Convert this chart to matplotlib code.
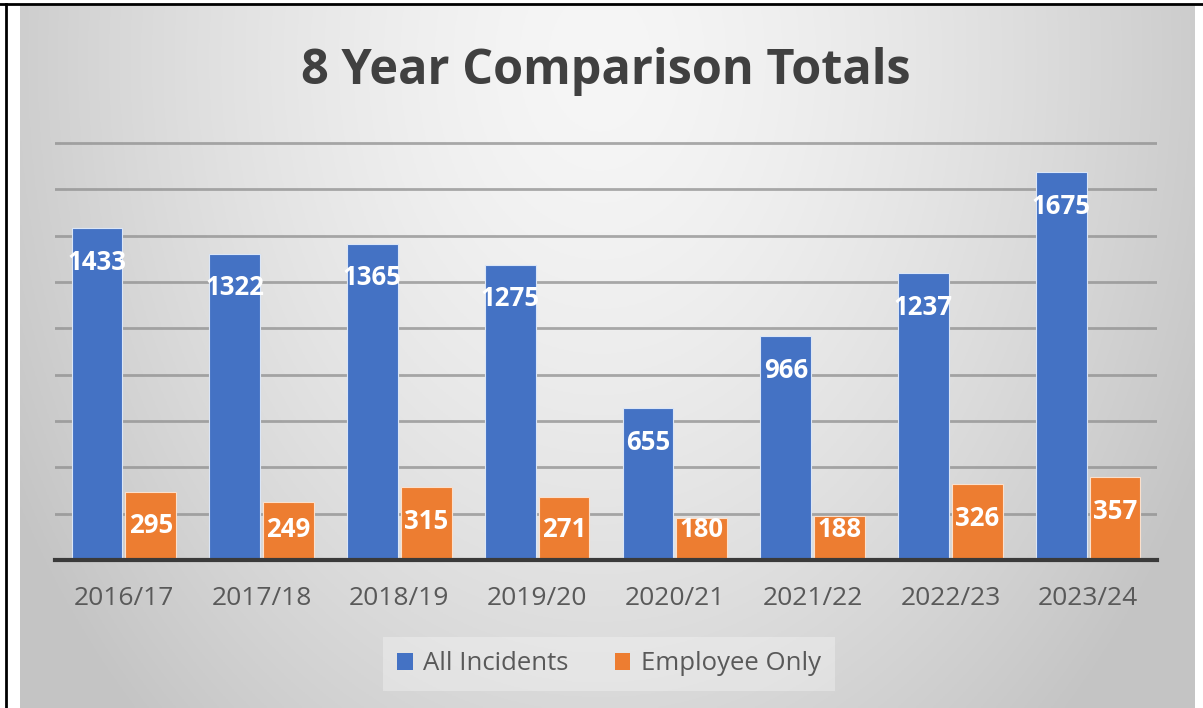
import matplotlib.pyplot as plt
import numpy as np
from matplotlib.patches import Patch
from matplotlib.lines import Line2D

plt.rcParams['font.family'] = ['Open Sans', 'DejaVu Sans']

# Data
annees = ['2016/17', '2017/18', '2018/19', '2019/20', '2020/21', '2021/22', '2022/23', '2023/24']
all_incidents = [1433, 1322, 1365, 1275, 655, 966, 1237, 1675]
employee_only = [295, 249, 315, 271, 180, 188, 326, 357]

bleu = '#4472C4'
orange = '#ED7D31'
gris_texte = '#595959'

W, H = 1203, 708
fig = plt.figure(figsize=(W / 100, H / 100), dpi=100)
fig.patch.set_facecolor('white')

# Grey radial-ish background of the chart area
ax_bg = fig.add_axes([20 / W, 0, 1175 / W, 703 / H])
xx, yy = np.meshgrid(np.linspace(20, 1195, 400), np.linspace(5, 708, 300))
d = np.sqrt(((xx - 600) / 590) ** 2 + ((yy - 60) / 800) ** 2)
shade = np.clip(0.965 - 0.16 * d ** 1.5, 0.77, 1)
ax_bg.imshow(np.dstack([shade] * 3), aspect='auto', extent=(0, 1, 0, 1))
ax_bg.axis('off')
ax_bg.set_zorder(0)

# Main axes
ymax = 1810
px_per_unit = 417 / 1800
ax = fig.add_axes([55 / W, 148 / H, 1102 / W, ymax * px_per_unit / H])
ax.set_zorder(1)
ax.set_facecolor('none')

x = np.arange(len(annees))
w = 0.37
ax.bar(x - w / 2 - 0.01, all_incidents, w, color=bleu, edgecolor='#dbe6f7', linewidth=0.8, zorder=3)
ax.bar(x + w / 2 + 0.01, employee_only, w, color=orange, edgecolor='#fbe0cc', linewidth=0.8, zorder=3)

# Data labels: just under the top of each bar, never too close to the baseline
offset = 147
plancher = 130
for xi, v in zip(x, all_incidents):
    ax.text(xi - w / 2 - 0.01, max(v - offset, plancher), str(v), ha='center', va='center',
            color='white', fontsize=18.5, fontweight='bold', zorder=4)
for xi, v in zip(x, employee_only):
    ax.text(xi + w / 2 + 0.01, max(v - offset, plancher), str(v), ha='center', va='center',
            color='white', fontsize=18.5, fontweight='bold', zorder=4)

ax.set_xlim(-0.5, len(annees) - 0.5)
ax.set_ylim(0, ymax)
ax.set_yticks(range(200, 1801, 200))
ax.yaxis.grid(True, color='#8f8f8f', linewidth=2, alpha=0.75, zorder=1)
ax.set_axisbelow(True)
ax.tick_params(axis='y', left=False, labelleft=False)
ax.set_xticks(x)
ax.set_xticklabels(annees)
ax.tick_params(axis='x', length=0, pad=19, labelsize=19, labelcolor=gris_texte)

for s in ['top', 'right', 'left']:
    ax.spines[s].set_visible(False)
ax.spines['bottom'].set_color('#3a3a3a')
ax.spines['bottom'].set_linewidth(3)
ax.spines['bottom'].set_zorder(5)

# Title
fig.text(606 / W, 1 - 71 / H, '8 Year Comparison Totals', ha='center', va='center',
         fontsize=35, fontweight='bold', color='#404040')

# Legend
handles = [Patch(facecolor=bleu, label='All Incidents'), Patch(facecolor=orange, label='Employee Only')]
leg = fig.legend(handles=handles, loc='center', bbox_to_anchor=(609 / W, 1 - 664 / H), ncol=2,
                 fontsize=18.5, frameon=True, fancybox=False, handlelength=0.6, handleheight=0.6,
                 handletextpad=0.4, columnspacing=1.8, borderpad=0.55)
leg.get_frame().set_facecolor('white')
leg.get_frame().set_alpha(0.3)
leg.get_frame().set_edgecolor('none')
for t in leg.get_texts():
    t.set_color(gris_texte)

# Black border lines (top and left)
fig.add_artist(Line2D([0, 1], [1 - 4 / H, 1 - 4 / H], color='black', linewidth=2))
fig.add_artist(Line2D([6 / W, 6 / W], [0, 1 - 4 / H], color='black', linewidth=2))

fig.savefig('out.png', dpi=100)
